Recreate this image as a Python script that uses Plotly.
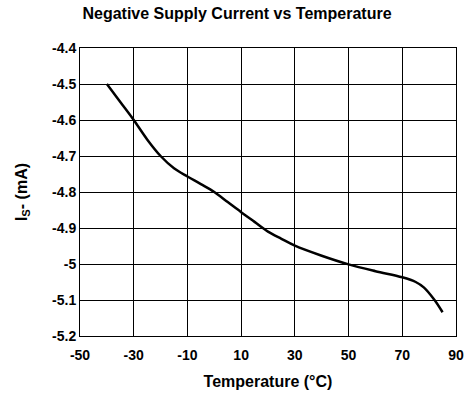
import plotly.graph_objects as go

temperature = [-40, -35, -30, -25, -20, -15, -10, -5, 0, 5, 10, 15, 20, 25, 30, 40, 50, 60, 70, 75, 78, 82, 85]
current_ma = [-4.5, -4.55, -4.6, -4.654, -4.70, -4.734, -4.757, -4.778, -4.80, -4.828, -4.856, -4.883,
              -4.91, -4.93, -4.949, -4.977, -5.001, -5.02, -5.037, -5.05, -5.065, -5.10, -5.134]

x_ticks = [-50, -30, -10, 10, 30, 50, 70, 90]
y_ticks = [-4.4, -4.5, -4.6, -4.7, -4.8, -4.9, -5.0, -5.1, -5.2]
y_ticktext = ["-4.4", "-4.5", "-4.6", "-4.7", "-4.8", "-4.9", "-5", "-5.1", "-5.2"]

font_family = "Liberation Sans, Arial, sans-serif"

fig = go.Figure()
fig.add_trace(go.Scatter(
    x=temperature, y=current_ma, mode="lines",
    line=dict(color="black", width=2.5, shape="spline", smoothing=1.0),
    showlegend=False, hoverinfo="skip",
))

fig.update_layout(
    width=474, height=400,
    margin=dict(l=80, r=10, t=48, b=64),
    paper_bgcolor="white", plot_bgcolor="white",
    font=dict(family=font_family, color="black", size=14),
    title=dict(text="<b>Negative Supply Current vs Temperature</b>",
               x=0.5, xanchor="center", y=1 - 13 / 400, yanchor="middle",
               font=dict(size=16, family=font_family, color="black")),
)

fig.update_xaxes(
    range=[-50, 90], tickvals=x_ticks, ticktext=[f"<b>{v}</b>" for v in x_ticks],
    showgrid=True, gridcolor="black", gridwidth=1,
    showline=True, linecolor="black", linewidth=1, mirror=True,
    zeroline=False, ticks="", tickfont=dict(size=14, family=font_family),
    ticklabelstandoff=6,
    title=dict(text="<b>Temperature (°C)</b>", font=dict(size=16, family=font_family), standoff=14),
)
fig.update_yaxes(
    range=[-5.2, -4.4], tickvals=y_ticks, ticktext=[f"<b>{t}</b>" for t in y_ticktext],
    showgrid=True, gridcolor="black", gridwidth=1,
    showline=True, linecolor="black", linewidth=1, mirror=True,
    zeroline=False, ticks="", tickfont=dict(size=14, family=font_family),
    title=dict(text="<b>I<sub>S</sub>- (mA)</b>", font=dict(size=16, family=font_family), standoff=20),
)

fig.write_html("out.html", config={"displayModeBar": False},
               post_script="document.body.style.margin='0';")
